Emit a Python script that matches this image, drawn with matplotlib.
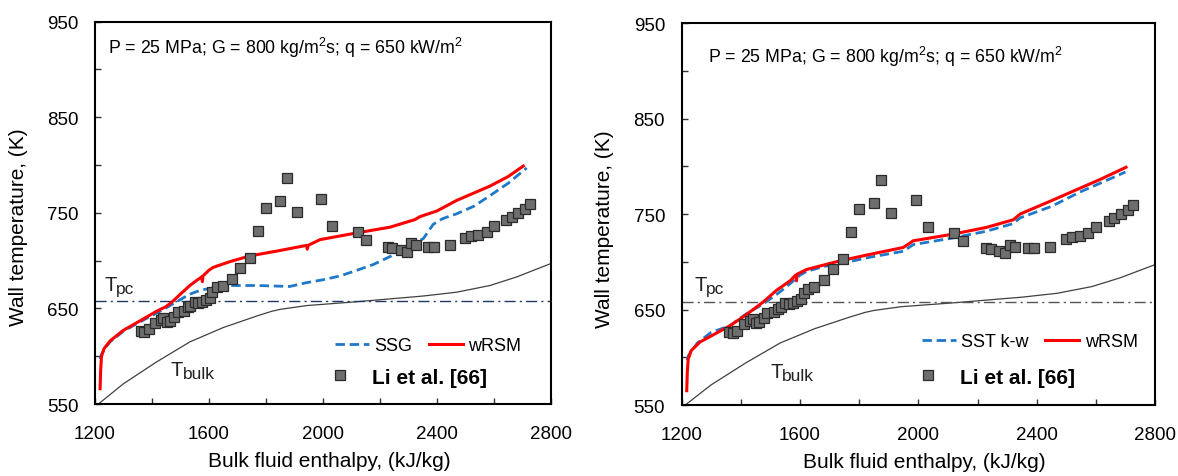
import matplotlib
matplotlib.use("Agg")
import matplotlib.pyplot as plt
from matplotlib.ticker import FixedLocator, MultipleLocator
from matplotlib.lines import Line2D

plt.rcParams['font.family'] = ['Liberation Sans', 'DejaVu Sans']
plt.rcParams['mathtext.fontset'] = 'custom'
plt.rcParams['mathtext.rm'] = 'Liberation Sans'
plt.rcParams['mathtext.it'] = 'Liberation Sans:italic'
plt.rcParams['mathtext.bf'] = 'Liberation Sans:bold'

# ---------------- data ----------------
# experimental wall temperature (Li et al.)
H_exp = [1360, 1372, 1388, 1412, 1432, 1440, 1452, 1462, 1478, 1490, 1512, 1525,
         1535, 1550, 1562, 1575, 1590, 1602, 1612, 1628, 1648, 1680, 1710, 1745,
         1773, 1799, 1851, 1875, 1908, 1992, 2033, 2122, 2151, 2230, 2244, 2273,
         2294, 2310, 2325, 2370, 2390, 2446, 2498, 2520, 2545, 2574, 2601, 2644,
         2662, 2685, 2709, 2726]
T_exp = [626, 625, 628, 635, 638, 640, 636, 637, 641, 646, 647, 651,
         653, 657, 656, 657, 659, 661, 667, 672, 674, 681, 692, 703,
         731, 755, 762, 786, 751, 765, 736, 730, 722, 714, 713, 711,
         709, 718, 716, 714, 714, 716, 724, 726, 727, 730, 736, 743,
         746, 750, 754, 759]

# wRSM, left case
H_wrsm_l = [1218, 1220, 1223, 1232, 1253, 1299, 1358, 1416, 1450, 1475, 1500, 1533,
            1560, 1575, 1577, 1579, 1600, 1615, 1674, 1744, 1838, 1943, 1945, 1948,
            1990, 2118, 2235, 2323, 2340, 2400, 2469, 2586, 2650, 2703]
T_wrsm_l = [566, 585, 600, 608, 616, 627, 637, 647, 652, 658, 665, 674,
            680, 683, 678, 684, 690, 693, 699, 705, 710, 716, 712, 716,
            722, 729, 735, 743, 746, 752, 763, 778, 788, 799]

# SSG
H_ssg = [1218, 1223, 1235, 1253, 1299, 1358, 1416, 1475, 1533, 1570, 1604, 1662,
         1767, 1884, 1943, 2000, 2060, 2120, 2177, 2240, 2294, 2352, 2387, 2420,
         2469, 2530, 2586, 2650, 2715]
T_ssg = [597, 602, 608, 615, 626, 636, 645, 655, 665, 669, 671, 674,
         674, 673, 677, 680, 684, 690, 696, 705, 714, 723, 738, 744,
         749, 757, 768, 781, 797]

# wRSM, right case
H_wrsm_r = [1217, 1219, 1222, 1232, 1262, 1363, 1420, 1476, 1520, 1566, 1585, 1588,
            1590, 1623, 1735, 1840, 1949, 1983, 2118, 2230, 2321, 2344, 2450, 2546,
            2620, 2702]
T_wrsm_r = [565, 585, 598, 607, 616, 633, 645, 658, 670, 680, 686, 680,
            687, 692, 701, 708, 715, 722, 729, 736, 744, 750, 764, 777,
            787, 799]

# SST k-w
H_sst = [1218, 1223, 1253, 1299, 1363, 1416, 1476, 1530, 1566, 1600, 1623, 1680,
         1735, 1840, 1949, 1983, 2118, 2230, 2321, 2344, 2450, 2546, 2620, 2700]
T_sst = [597, 602, 615, 626, 633, 645, 656, 668, 677, 686, 690, 695,
         698, 705, 711, 718, 725, 732, 740, 746, 758, 773, 783, 794]

# bulk fluid temperature
H_bulk = [1212, 1299, 1416, 1533, 1650, 1767, 1820, 1849, 1943, 2118, 2235, 2352,
          2469, 2586, 2680, 2800]
T_bulk = [550, 571, 594, 615, 630, 642, 647, 649, 653, 657, 660, 663,
          667, 674, 683, 697]

T_pc = 658

y_ticks = [550, 650, 750, 850, 950]
x_ticks = [1200, 1600, 2000, 2400, 2800]

# ---------------- figure ----------------
fig = plt.figure(figsize=(11.78, 4.77), dpi=100)
axL = fig.add_axes([0.0806, 0.1509, 0.3871, 0.8015])
axR = fig.add_axes([0.5787, 0.1488, 0.4018, 0.8008])

red = '#ff0000'
blue = '#1f78c8'
sq_face = '#6e6e6e'


def style_axes(ax):
    ax.set_xlim(1200, 2800)
    ax.set_ylim(550, 950)
    ax.xaxis.set_major_locator(FixedLocator(x_ticks))
    ax.xaxis.set_minor_locator(MultipleLocator(200))
    ax.yaxis.set_major_locator(FixedLocator(y_ticks))
    ax.yaxis.set_minor_locator(MultipleLocator(50))
    ax.tick_params(which='both', direction='in', length=4, width=1, color='#333333')
    ax.tick_params(axis='x', which='major', labelsize=13.5, pad=15)
    ax.tick_params(axis='y', which='major', labelsize=13.5, pad=12)
    for s in ax.spines.values():
        s.set_linewidth(1.5)
    ax.set_xlabel('Bulk fluid enthalpy, (kJ/kg)', fontsize=15)
    ax.set_ylabel('Wall temperature, (K)', fontsize=15)


def label_T(ax, x, y, sub):
    # "T" with a slightly smaller, lowered suffix
    ax.text(x, y, 'T', fontsize=14.5, va='baseline', ha='left', color='#222222')
    ax.annotate(sub, (x, y), xytext=(8.6, -1.8), textcoords='offset points',
                fontsize=12.5, va='baseline', ha='left', color='#222222')


def draw_case(ax, H_model, T_model, H_w, T_w, pc_color, txt_xy, tpc_xy, tbulk_xy):
    ax.plot(H_bulk, T_bulk, color='#404040', lw=0.9, zorder=2)
    ax.axhline(T_pc, color=pc_color, lw=1.0, ls=(0, (8, 3, 1.5, 3)), zorder=2)
    l_model, = ax.plot(H_model, T_model, color=blue, lw=2.0, ls=(0, (3.4, 1.7)), zorder=3)
    l_wrsm, = ax.plot(H_w, T_w, color=red, lw=2.2, zorder=4)
    ax.plot(H_exp, T_exp, ls='none', marker='s', ms=7.5, mfc=sq_face,
            mec='#2a2a2a', mew=0.9, zorder=5)

    ax.text(txt_xy[0], txt_xy[1],
            r'P = 25 MPa; G = 800 kg/m$^\mathregular{2}$s; q = 650 kW/m$^\mathregular{2}$',
            transform=ax.transAxes, fontsize=12.8, va='center', ha='left')
    label_T(ax, tpc_xy[0], tpc_xy[1], 'pc')
    label_T(ax, tbulk_xy[0], tbulk_xy[1], 'bulk')
    return l_model, l_wrsm


style_axes(axL)
style_axes(axR)

mL, wL = draw_case(axL, H_ssg, T_ssg, H_wrsm_l, T_wrsm_l, '#1f3864',
                   (0.029, 0.934), (1232, 669), (1466, 580))
mR, wR = draw_case(axR, H_sst, T_sst, H_wrsm_r, T_wrsm_r, '#555555',
                   (0.056, 0.914), (1242, 670), (1500, 579))

axL.yaxis.set_label_coords(-0.147, 0.466)
axR.yaxis.set_label_coords(-0.143, 0.463)
axL.xaxis.set_label_coords(0.513, -0.122)
axR.xaxis.set_label_coords(0.512, -0.122)

sq_handle = Line2D([], [], ls='none', marker='s', ms=7.5, mfc=sq_face,
                   mec='#2a2a2a', mew=0.9)

for ax, name, ml, wl, row1, row2 in [
        (axL, 'SSG', mL, wL, (0.526, 0.1525), (0.493, 0.07)),
        (axR, 'SST k-w', mR, wR, (0.507, 0.165), (0.478, 0.073))]:
    leg1 = ax.legend([ml, wl], [name, 'wRSM'], ncol=2, frameon=False,
                     loc='center left', bbox_to_anchor=row1, fontsize=13,
                     handlelength=1.9, handletextpad=0.3, columnspacing=0.9,
                     borderpad=0, borderaxespad=0)
    ax.add_artist(leg1)
    ax.legend([sq_handle], ['Li et al. [66]'], frameon=False,
              loc='center left', bbox_to_anchor=row2,
              prop={'size': 15, 'weight': 'bold'},
              handlelength=1.9, handletextpad=0.6,
              borderpad=0, borderaxespad=0)

fig.savefig('out.png', dpi=100, facecolor='white')
